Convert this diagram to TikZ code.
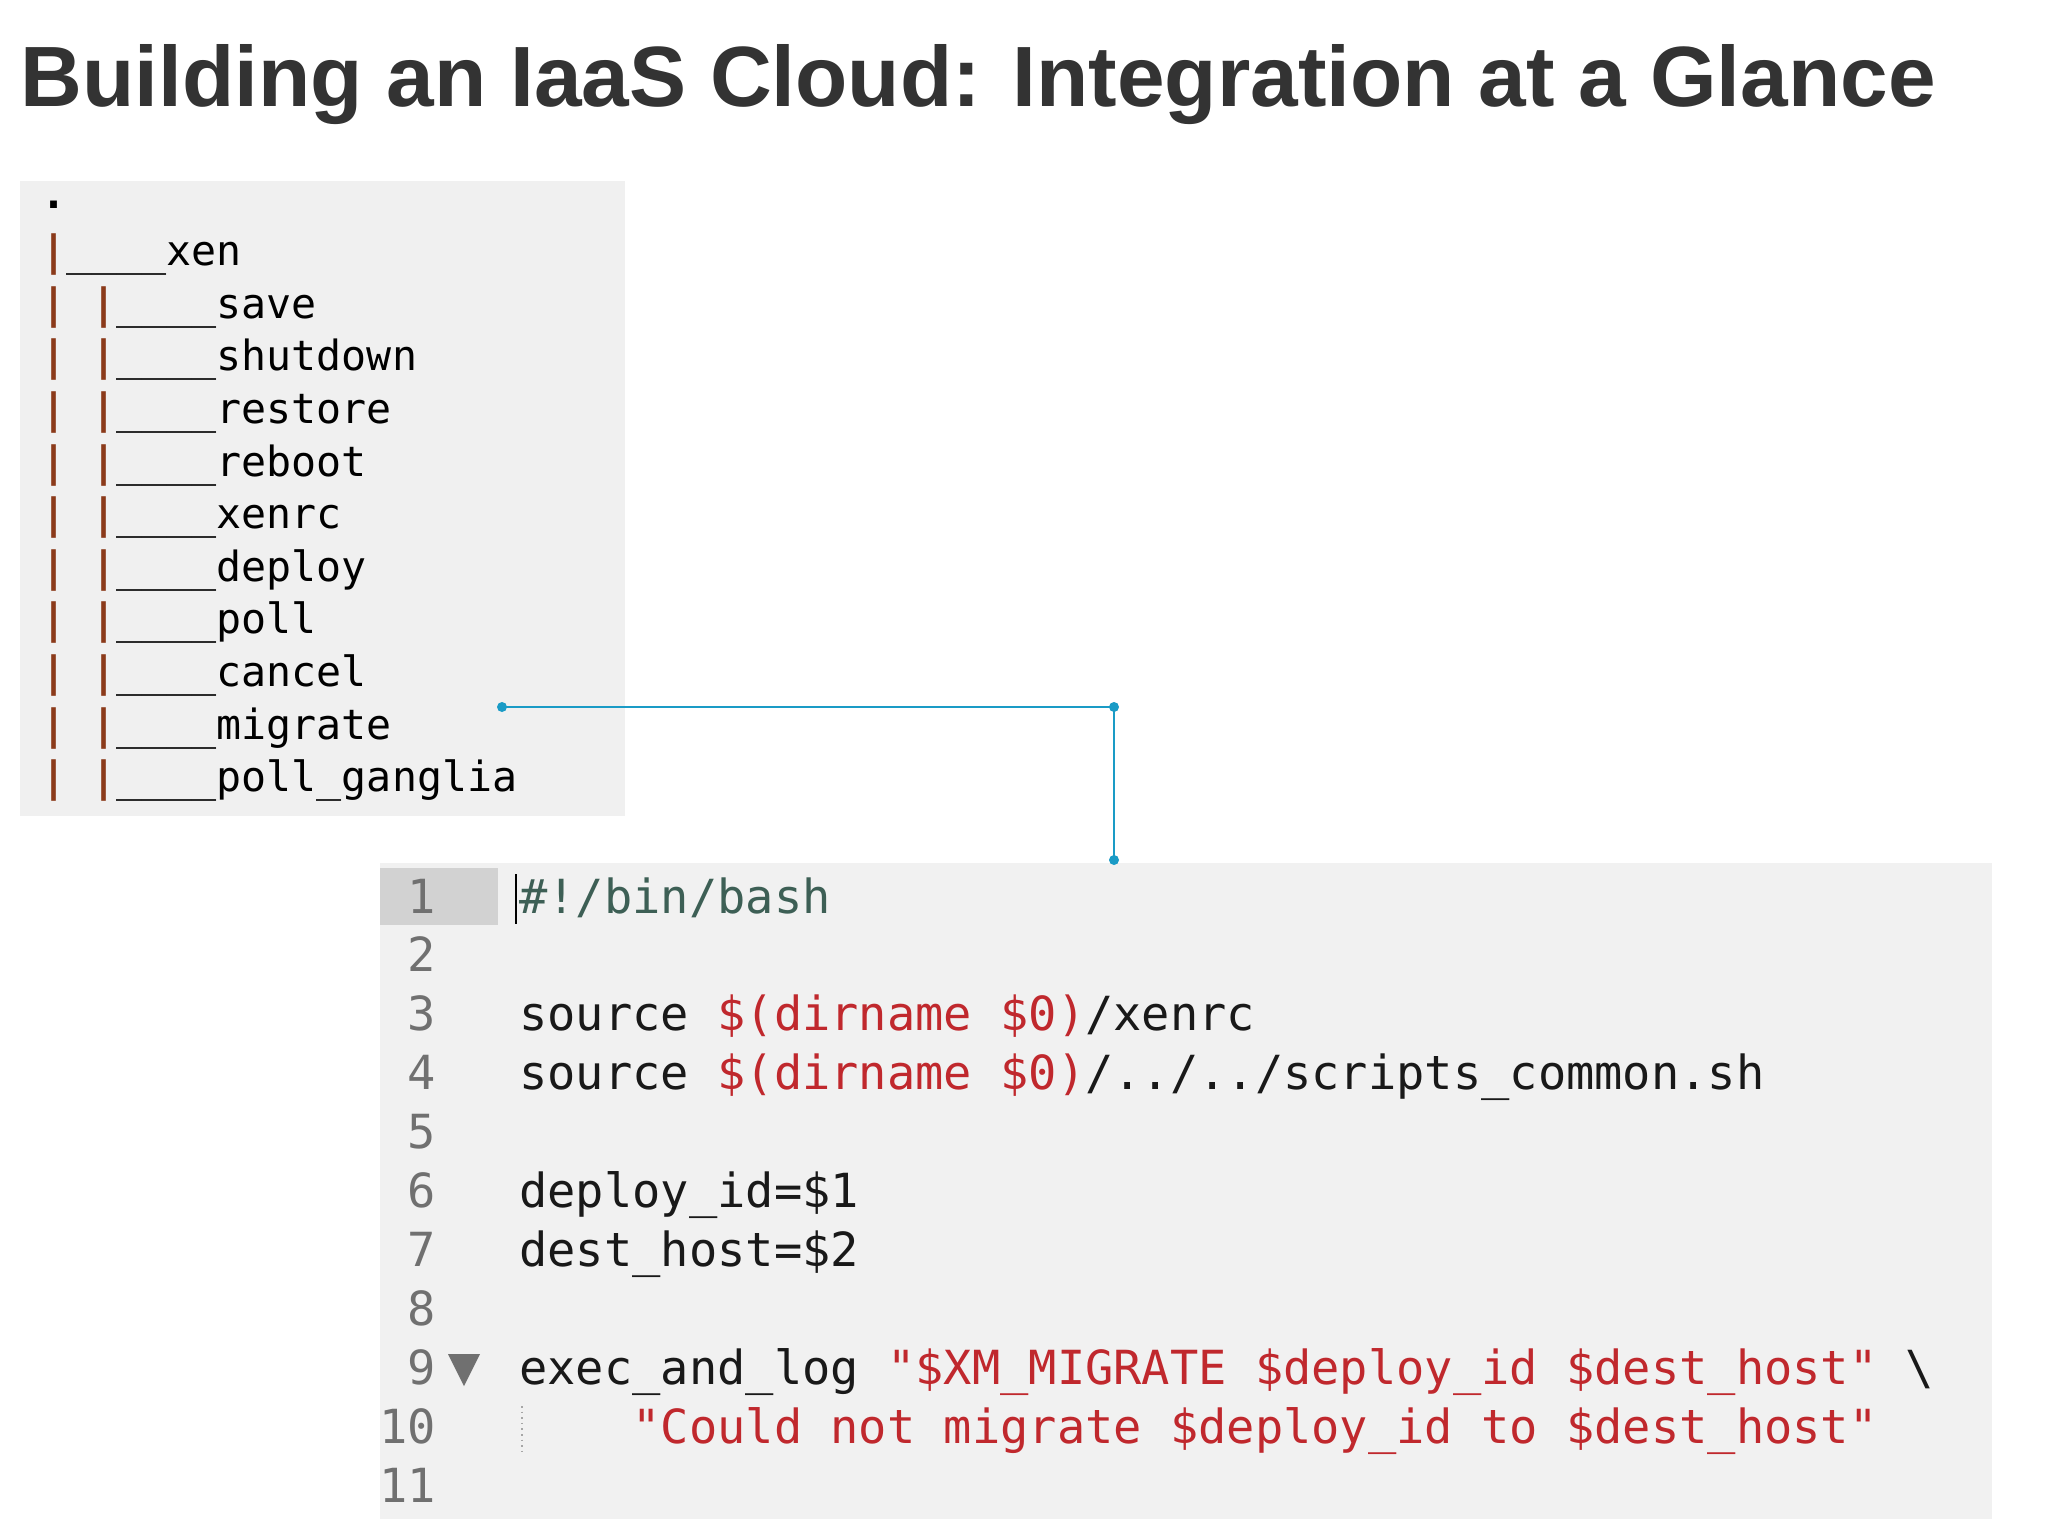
\documentclass[tikz,border=0pt]{standalone}
\usepackage{fontspec}
\setmainfont{Liberation Sans}
\setmonofont{DejaVu Sans Mono}
\definecolor{titlec}{HTML}{333333}
\definecolor{panel}{HTML}{F0F0F0}
\definecolor{gut}{HTML}{D2D2D2}
\definecolor{pipe}{HTML}{8B3A1A}
\definecolor{red}{HTML}{C0282D}
\definecolor{cmt}{HTML}{3D5F55}
\definecolor{lnum}{HTML}{707070}
\definecolor{link}{HTML}{1A9BC6}
\newcommand{\pp}{\textcolor{pipe}{\bfseries|}}
\newcommand{\rd}[1]{\textcolor{red}{#1}}
\begin{document}
\begin{tikzpicture}[x=1pt,y=1pt,
  tree/.style={anchor=base west,inner sep=0,font=\fontsize{20.8}{22}\ttfamily},
  code/.style={anchor=base west,inner sep=0,font=\fontsize{23.5}{25}\ttfamily,text=black!90},
  num/.style={anchor=base east,inner sep=0,font=\fontsize{23.5}{25}\ttfamily,text=lnum},
  dotend/.style={circle,fill=link,inner sep=0,minimum size=5pt}]
\useasboundingbox[fill=white] (0,0) rectangle (1024,-768);
\node[anchor=base west,inner sep=0,font=\bfseries\fontsize{42.8}{48}\selectfont,text=titlec] (title) at (10,-53) {Building an IaaS Cloud: Integration at a Glance};
% tree panel
\fill[panel] (10,-90.5) rectangle (312.5,-408);
\node[tree,font=\fontsize{20.8}{22}\ttfamily\bfseries] (dot) at (20.5,-104) {.};
\node[tree] (r0) at (20.5,-132.8) {\pp\_\_\_\_xen};
\foreach \t [count=\i] in {save,shutdown,restore,reboot,xenrc,deploy,poll,cancel,migrate,poll\_ganglia}{
  \node[tree] (r\i) at (20.5,{-132.8-26.3*\i}) {\pp{} \pp\_\_\_\_\t};
}
% code panel
\fill[panel!90!white] (190,-431.5) rectangle (996,-759.5);
\fill[gut] (190,-434) rectangle (249,-462.5);
\foreach \i in {1,...,11}{
  \node[num] (n\i) at (218,{-456.5-29.45*(\i-1)}) {\i};
}
\draw[black,line width=0.8pt] (258,-437) -- (258,-462);
\node[code,text=cmt] (c1) at (259.5,-456.5) {\#!/bin/bash};
\node[code] (c3) at (259.5,{-456.5-29.45*2}) {source \rd{\$(dirname \$0)}/xenrc};
\node[code] (c4) at (259.5,{-456.5-29.45*3}) {source \rd{\$(dirname \$0)}/../../scripts\_common.sh};
\node[code] (c6) at (259.5,{-456.5-29.45*5}) {deploy\_id=\$1};
\node[code] (c7) at (259.5,{-456.5-29.45*6}) {dest\_host=\$2};
\node[code] (c9) at (259.5,{-456.5-29.45*8}) {exec\_and\_log \rd{"\$XM\_MIGRATE \$deploy\_id \$dest\_host"} \textbackslash};
\node[code] (c10) at (259.5,{-456.5-29.45*9}) {\phantom{xxxx}\rd{"Could not migrate \$deploy\_id to \$dest\_host"}};
\fill[lnum] (224,-677) -- (240,-677) -- (232,-693) -- cycle;
\draw[black!35,dotted,line width=0.8pt] (261,-703) -- (261,-726);
% connector
\coordinate (a) at (251,-353.5);
\coordinate (b) at (557,-353.5);
\coordinate (c) at (557,-430);
\draw[link,line width=1.2pt] (a) -- (b) -- (c);
\node[dotend] at (a) {};
\node[dotend] at (b) {};
\node[dotend] at (c) {};
\end{tikzpicture}
\end{document}
